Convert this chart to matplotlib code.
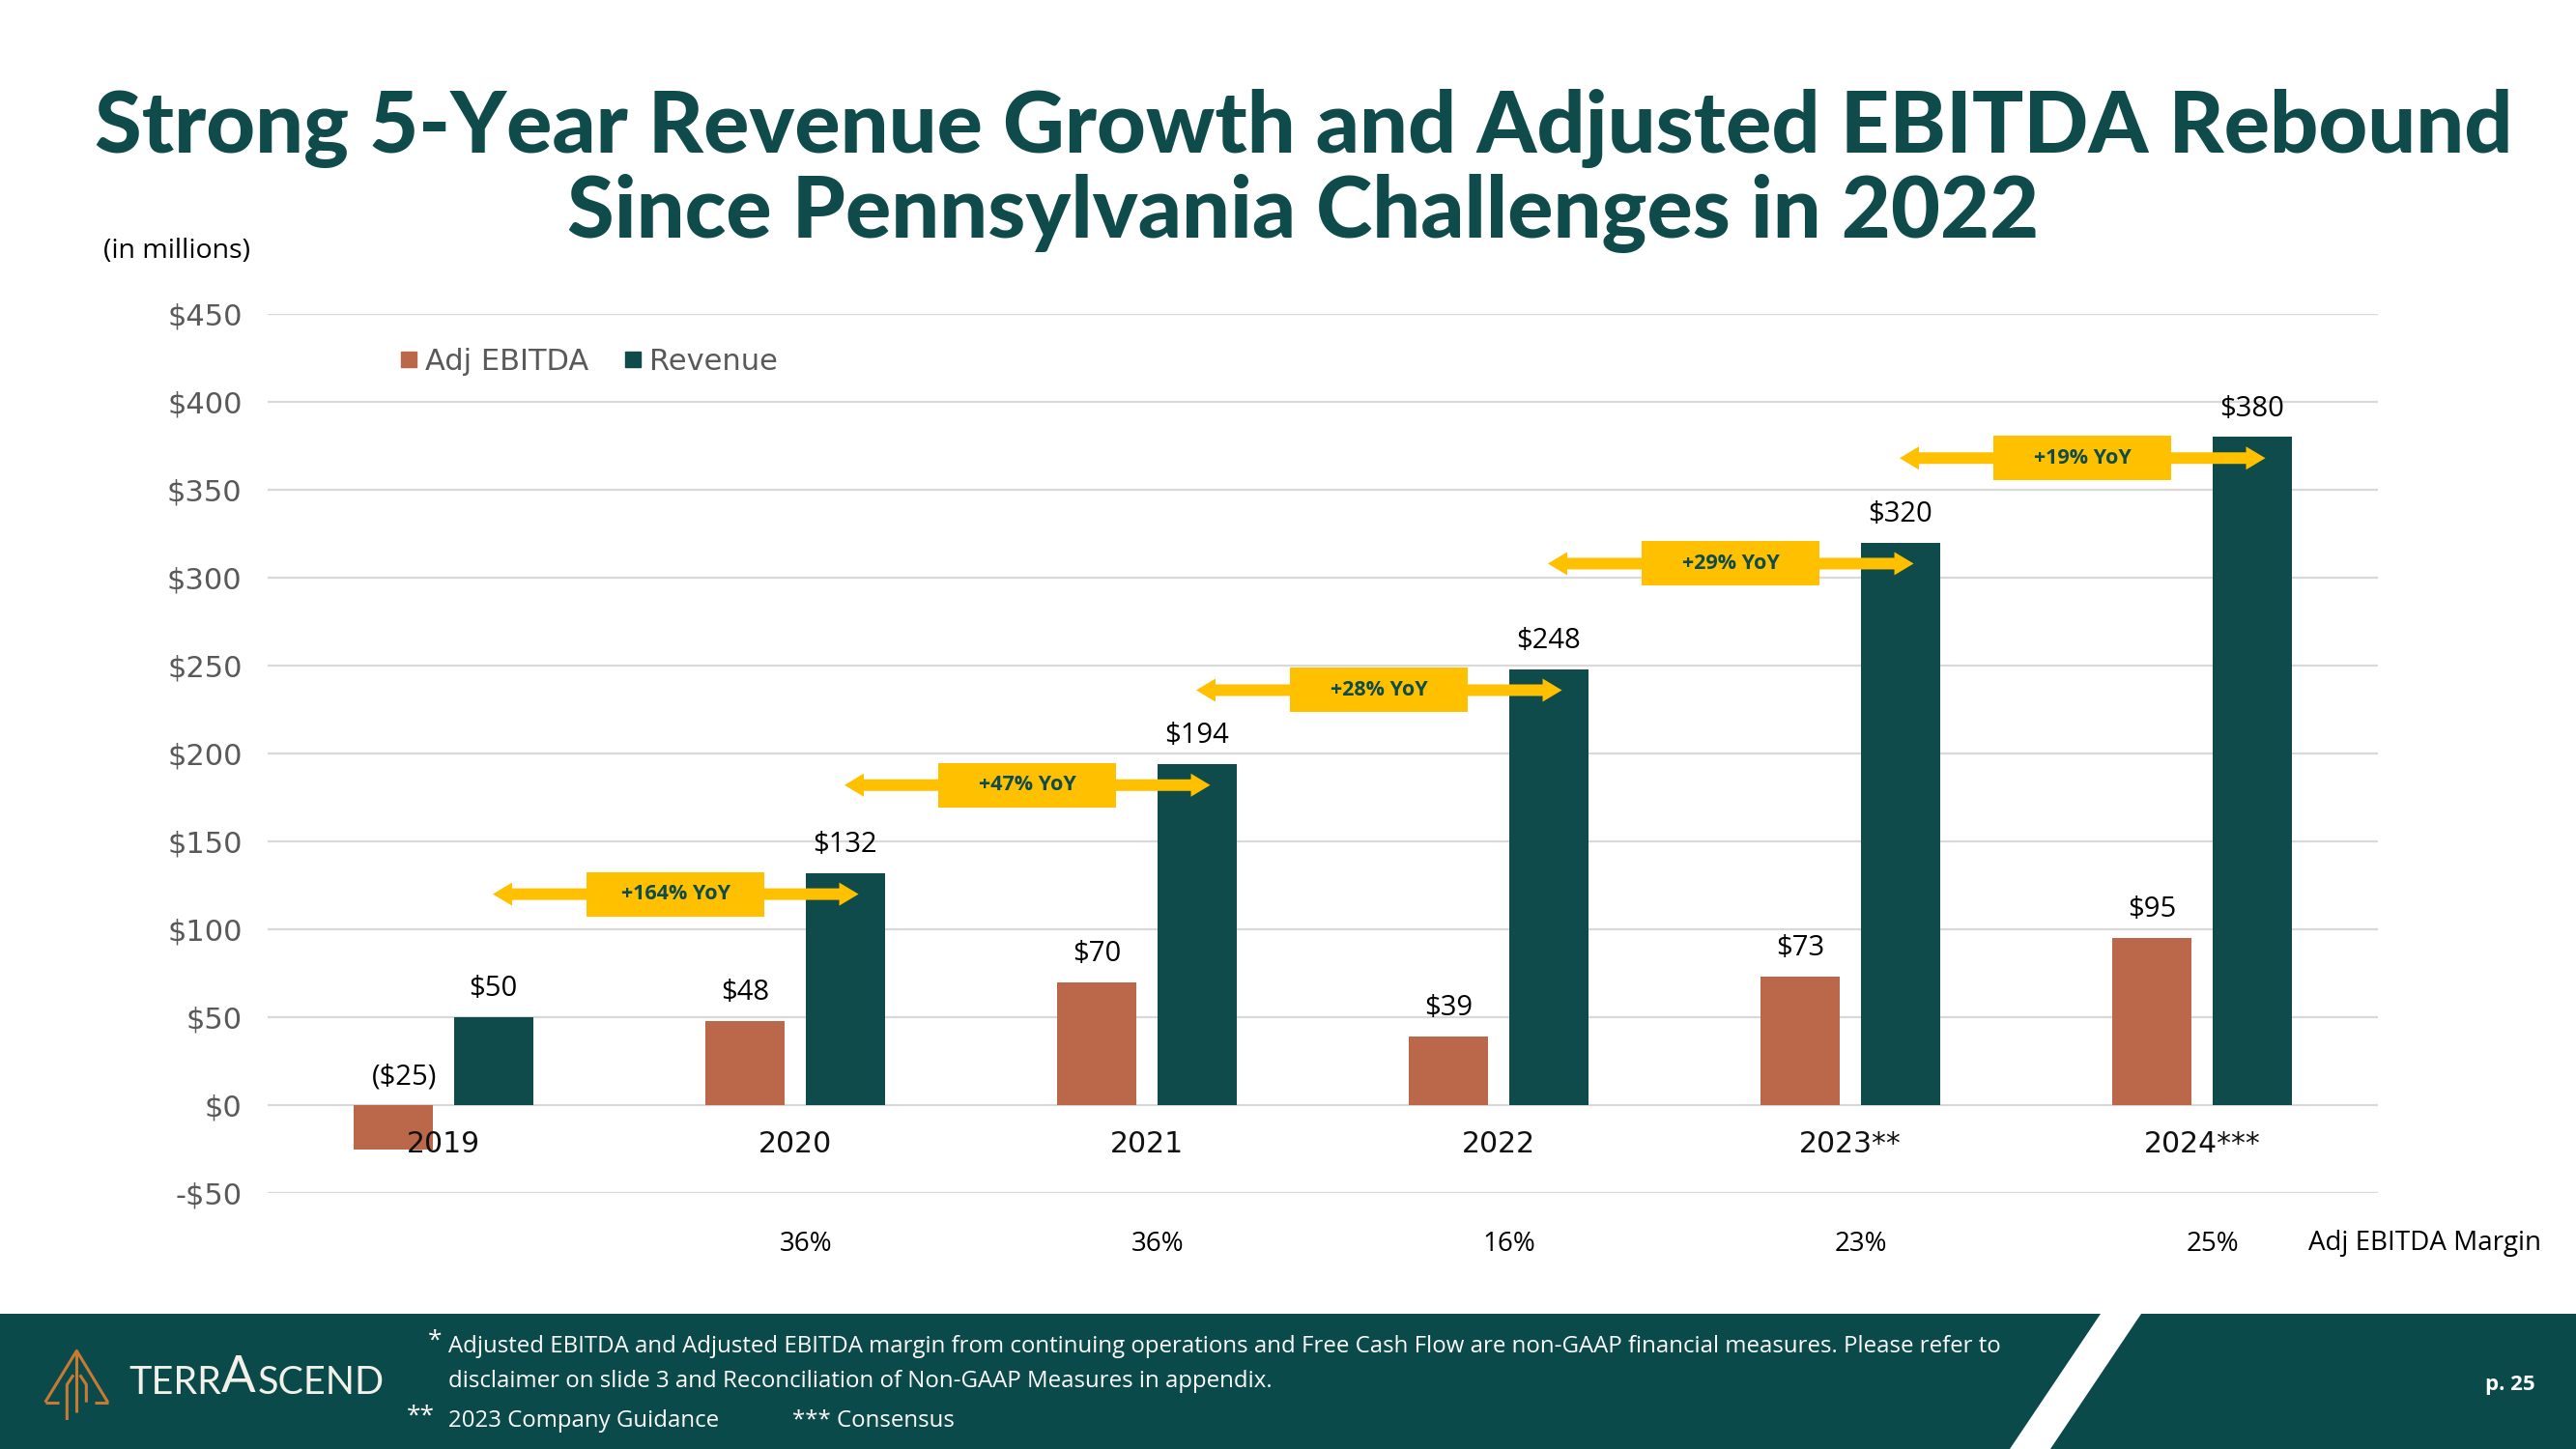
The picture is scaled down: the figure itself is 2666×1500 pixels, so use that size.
import numpy as np
import matplotlib.pyplot as plt
from matplotlib.patches import Polygon, Rectangle
from matplotlib.lines import Line2D

# ---- data -------------------------------------------------------------
years          = ["2019", "2020", "2021", "2022", "2023**", "2024***"]
adj_ebitda     = [-25, 48, 70, 39, 73, 95]
revenue        = [50, 132, 194, 248, 320, 380]
ebitda_labels  = ["($25)", "$48", "$70", "$39", "$73", "$95"]
revenue_labels = ["$50", "$132", "$194", "$248", "$320", "$380"]
margins        = ["", "36%", "36%", "16%", "23%", "25%"]
yoy_labels     = ["+164% YoY", "+47% YoY", "+28% YoY", "+29% YoY", "+19% YoY"]
yticks         = [-50, 0, 50, 100, 150, 200, 250, 300, 350, 400, 450]

# ---- style ------------------------------------------------------------
TEAL   = "#0E4B4A"
ORANGE = "#BA6849"
YELLOW = "#FFC000"
GRID   = "#D9D9D9"
GREY   = "#595959"
BAND   = "#0A4A4A"

W, H = 2666, 1500
fig = plt.figure(figsize=(W / 100, H / 100), dpi=100)
fig.patch.set_facecolor("white")

ax = fig.add_axes([277 / W, 1 - 1235 / H, 2184 / W, 910 / H])
x = np.arange(len(years))
bw = 0.225
ax.bar(x - 0.142, adj_ebitda, bw, color=ORANGE, zorder=3, label="Adj EBITDA")
ax.bar(x + 0.142, revenue, bw, color=TEAL, zorder=3, label="Revenue")

ax.set_xlim(-0.5, len(years) - 0.5)
ax.set_ylim(-50, 450)
ax.set_yticks(yticks)
ax.set_yticklabels([f"${v}" if v >= 0 else f"-${-v}" for v in yticks],
                   fontsize=22, color=GREY, family="DejaVu Sans")
ax.tick_params(axis="y", length=0, pad=19)
ax.set_xticks([])
ax.grid(axis="y", color=GRID, linewidth=1.6, zorder=0)
for s in ax.spines.values():
    s.set_visible(False)

# data labels
for i in x:
    ax.annotate(ebitda_labels[i], (i - 0.142 + 0.03 * (adj_ebitda[i] < 0), max(adj_ebitda[i], 0)),
                xytext=(0, 21), textcoords="offset points", ha="center", va="center",
                fontsize=21, family="Open Sans", color="black", zorder=5)
    ax.annotate(revenue_labels[i], (i + 0.142, revenue[i]),
                xytext=(0, 21), textcoords="offset points", ha="center", va="center",
                fontsize=21, family="Open Sans", color="black", zorder=5)
    ax.text(i, -22, years[i], ha="center", va="center", fontsize=21.5,
            family="DejaVu Sans", color="#111111", zorder=6)
    ax.text(i + 0.03, -79, margins[i], ha="center", va="center", fontsize=20,
            family="Open Sans", color="black", clip_on=False)

fig.text(2389 / W, 1 - 1287 / H, "Adj EBITDA Margin", ha="left", va="center",
         fontsize=20, family="Open Sans", color="black")

# YoY double arrows with label boxes
px_x = 2184 / 6      # pixels per category
px_y = 910 / 500     # pixels per $1
shaft, head_h, head_l = 12 / px_y, 24 / px_y, 20 / px_x
box_w, box_h = 184 / px_x, 46 / px_y
for k, lab in enumerate(yoy_labels):
    i = k + 1
    yc = revenue[i] - 12
    x0, x1 = i - 1 + 0.14, i + 0.18
    pts = [(x0, yc), (x0 + head_l, yc + head_h / 2), (x0 + head_l, yc + shaft / 2),
           (x1 - head_l, yc + shaft / 2), (x1 - head_l, yc + head_h / 2), (x1, yc),
           (x1 - head_l, yc - head_h / 2), (x1 - head_l, yc - shaft / 2),
           (x0 + head_l, yc - shaft / 2), (x0 + head_l, yc - head_h / 2)]
    ax.add_patch(Polygon(pts, closed=True, facecolor=YELLOW, edgecolor="none", zorder=4))
    xm = (x0 + x1) / 2
    ax.add_patch(Rectangle((xm - box_w / 2, yc - box_h / 2), box_w, box_h,
                           facecolor=YELLOW, edgecolor="none", zorder=4))
    ax.text(xm, yc, lab, ha="center", va="center", fontsize=15.5, fontweight="bold",
            family="Open Sans", color=TEAL, zorder=5)

# legend
handles = [Line2D([], [], marker="s", linestyle="", markersize=12, color=ORANGE),
           Line2D([], [], marker="s", linestyle="", markersize=12, color=TEAL)]
leg = ax.legend(handles, ["Adj EBITDA", "Revenue"], loc="center left",
                bbox_to_anchor=(0.05, 0.946), ncol=2, frameon=False,
                handlelength=0.6, handletextpad=0.25, columnspacing=1.2,
                prop={"family": "DejaVu Sans", "size": 22})
for t in leg.get_texts():
    t.set_color(GREY)

# title
fig.text(0.506, 1 - 133 / H, "Strong 5-Year Revenue Growth and Adjusted EBITDA Rebound",
         ha="center", va="center", fontsize=63.5, fontweight="black", family="Lato", color=TEAL)
fig.text(0.506, 1 - 221 / H, "Since Pennsylvania Challenges in 2022",
         ha="center", va="center", fontsize=63.5, fontweight="black", family="Lato", color=TEAL)
fig.text(107 / W, 1 - 260 / H, "(in millions)", ha="left", va="center",
         fontsize=20.5, family="Open Sans", color="black")

# ---- footer band ----------------------------------------------------------
bg = fig.add_axes([0, 0, 1, 1], zorder=-1)
bg.set_xlim(0, W)
bg.set_ylim(H, 0)
bg.axis("off")
bg.add_patch(Rectangle((0, 1360), W, 140, facecolor=BAND, edgecolor="none"))
bg.add_patch(Polygon([(2080, 1500), (2122, 1500), (2216, 1360), (2174, 1360)],
                     closed=True, facecolor="white", edgecolor="none"))

fg = fig.add_axes([0, 0, 1, 1], zorder=5)
fg.set_xlim(0, W)
fg.set_ylim(H, 0)
fg.axis("off")
fg.patch.set_alpha(0)

# logo icon
def lp(px, py):
    return 30 + px / 3, 1370 + py / 3

logo_lines = [
    [(50, 245), (148, 85), (245, 245)],
    [(50, 245), (92, 245)],
    [(203, 245), (245, 245)],
    [(148, 85), (148, 275)],
    [(118, 300), (118, 190), (138, 160)],
    [(178, 245), (178, 190), (158, 160)],
]
for seg in logo_lines:
    xs, ys = zip(*[lp(*p) for p in seg])
    fg.plot(xs, ys, color="#C87A35", linewidth=2.2, solid_capstyle="butt")

t1 = fg.text(133, 1443, "TERR", ha="left", va="baseline", fontsize=28.5,
             family="Lato", fontweight="normal", color="#F2F0E8")
t2 = fg.annotate("A", xy=(1, 0), xycoords=t1, ha="left", va="bottom", fontsize=38,
                 family="Lato", fontweight="normal", color="#F2F0E8")
t3 = fg.annotate("SCEND", xy=(1, 0), xycoords=t1, xytext=(27, 0), textcoords="offset points",
                 ha="left", va="bottom", fontsize=28.5, family="Lato", fontweight="normal",
                 color="#F2F0E8")

FOOT = dict(family="Open Sans", color="white", fontsize=17.3, va="center", ha="left")
fg.text(443, 1388, "*", **dict(FOOT, fontsize=19))
fg.text(464, 1394, "Adjusted EBITDA and Adjusted EBITDA margin from continuing operations and "
        "Free Cash Flow are non-GAAP financial measures. Please refer to", **FOOT)
fg.text(464, 1430, "disclaimer on slide 3 and Reconciliation of Non-GAAP Measures in appendix.",
        **FOOT)
fg.text(421, 1466, "**", **dict(FOOT, fontsize=19))
fg.text(464, 1471, "2023 Company Guidance", **FOOT)
fg.text(820, 1471, "*** Consensus", **FOOT)
fg.text(2572, 1433, "p. 25", family="Open Sans", color="white", fontsize=16,
        fontweight="bold", ha="left", va="center")

fig.savefig("out.png", dpi=100)
